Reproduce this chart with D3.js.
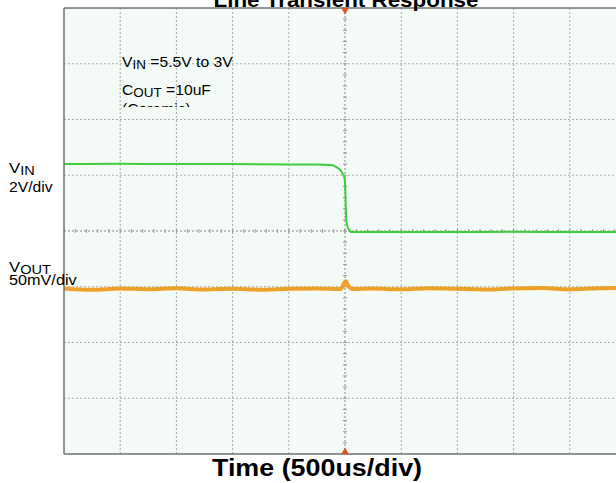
<!DOCTYPE html>
<html>
<head>
<meta charset="utf-8">
<script src="https://cdn.jsdelivr.net/npm/d3@7"></script>
<style>
  body { margin: 0; background: #fff; }
  text { font-family: Arial, "Liberation Sans", sans-serif; fill: #000; }
</style>
</head>
<body>
<div id="chart"></div>
<script>
// ---- data read off the scope shot ----
// time axis: 500us/div, 10 divs, trigger at centre
var timeDomain = [-2500, 2500];
var divRange   = [-4, 4];

// VIN trace (volts), 2V/div
var vinTime = [-2500, -2000, -1500, -1000, -500, -250, -125, -80, -45, -20, -4, 4, 9, 18, 36, 62, 500, 1000, 1500, 2000, 2500];
var vinVolt = [5.40, 5.41, 5.40, 5.40, 5.39, 5.39, 5.37, 5.30, 5.20, 5.05, 4.90, 4.29, 3.57, 3.22, 3.04, 2.96, 2.96, 2.96, 2.97, 2.96, 2.96];

// VOUT trace (mV deviation), 50mV/div
var voutTime = [-2500, -2250, -2000, -1750, -1500, -1250, -1000, -750, -500, -250, -36, -18, -4, 9, 22, 45, 71, 250, 500, 750, 1000, 1250, 1500, 1750, 2000, 2250, 2500];
var voutMv   = [0.5, -0.8, 0.4, -0.2, 0.6, -0.5, 0.3, -0.6, 0.2, 0.5, 0, 3, 6, 7, 4, 1, 0, 0.4, -0.3, 0.6, 0.2, -0.4, 0.5, 0.8, -0.2, 0.6, 0.9];

var vinScale  = 2,  vinRef  = 3.0, vinPos  = 0;     // volts per div, level on centre line
var voutScale = 50, voutRef = 0,   voutPos = -1.04; // mV per div

var title  = "Line Transient Response";
var xTitle = "Time (500us/div)";

// ---- layout ----
var width = 616, height = 483;
var plot  = { left: 64, right: 626, top: 8, bottom: 454 };
var stretch = 1.12; // source image is stretched sideways

var svg = d3.select("#chart").append("svg")
  .attr("width", width).attr("height", height);

var x = d3.scaleLinear().domain(timeDomain).range([plot.left, plot.right]);
var y = d3.scaleLinear().domain(divRange).range([plot.bottom, plot.top]);

svg.append("clipPath").attr("id", "clip")
  .append("rect").attr("x", plot.left).attr("y", plot.top)
  .attr("width", width - plot.left).attr("height", plot.bottom - plot.top);

var g = svg.append("g").attr("clip-path", "url(#clip)");

g.append("rect")
  .attr("x", plot.left).attr("y", plot.top)
  .attr("width", plot.right - plot.left).attr("height", plot.bottom - plot.top)
  .attr("fill", "#f4fbf6");

// grid
var xDivs = d3.range(-2000, 2501, 500);
var yDivs = d3.range(-3, 4, 1);

g.selectAll(".vgrid").data(xDivs).enter().append("line")
  .attr("x1", function (d) { return x(d); }).attr("x2", function (d) { return x(d); })
  .attr("y1", plot.top).attr("y2", plot.bottom)
  .attr("stroke", d => d === 0 ? "#888" : "#aaa")
  .attr("stroke-width", 1)
  .attr("stroke-dasharray", "2,2");

g.selectAll(".hgrid").data(yDivs).enter().append("line")
  .attr("x1", plot.left).attr("x2", plot.right)
  .attr("y1", function (d) { return y(d); }).attr("y2", function (d) { return y(d); })
  .attr("stroke", d => d === 0 ? "#888" : "#aaa")
  .attr("stroke-width", 1)
  .attr("stroke-dasharray", "2,2");

// minor ticks on the centre lines
var xMinor = d3.range(-2500, 2501, 100);
var yMinor = d3.range(-4, 4.01, 0.2);

g.selectAll(".xminor").data(xMinor).enter().append("line")
  .attr("x1", d => x(d)).attr("x2", d => x(d))
  .attr("y1", y(0) - 2).attr("y2", y(0) + 2)
  .attr("stroke", "#999").attr("stroke-width", 1);

g.selectAll(".yminor").data(yMinor).enter().append("line")
  .attr("x1", x(0) - 2).attr("x2", x(0) + 2)
  .attr("y1", d => y(d)).attr("y2", d => y(d))
  .attr("stroke", "#999").attr("stroke-width", 1);

// traces
var vinLine = d3.line()
  .x(function (d, i) { return x(vinTime[i]); })
  .y(function (d) { return y((d - vinRef) / vinScale + vinPos); })
  .curve(d3.curveMonotoneX);

var voutLine = d3.line()
  .x(function (d, i) { return x(voutTime[i]); })
  .y(function (d) { return y((d - voutRef) / voutScale + voutPos); })
  .curve(d3.curveMonotoneX);

g.append("path").datum(voutMv)
  .attr("d", voutLine)
  .attr("fill", "none").attr("stroke", "#eea028").attr("stroke-width", 4)
  .attr("stroke-linejoin", "round");

g.append("path").datum(vinVolt)
  .attr("d", vinLine)
  .attr("fill", "none").attr("stroke", "#3ccf3c").attr("stroke-width", 2)
  .attr("stroke-linejoin", "round");

// frame
svg.append("line").attr("x1", plot.left).attr("x2", plot.left)
  .attr("y1", plot.top).attr("y2", plot.bottom)
  .attr("stroke", "#6f7370").attr("stroke-width", 1.5);
svg.append("line").attr("x1", plot.left).attr("x2", width)
  .attr("y1", plot.top).attr("y2", plot.top)
  .attr("stroke", "#6f7370").attr("stroke-width", 1.5);
svg.append("line").attr("x1", plot.left).attr("x2", width)
  .attr("y1", plot.bottom).attr("y2", plot.bottom)
  .attr("stroke", "#6f7370").attr("stroke-width", 1.5);

// trigger markers
var tri = d3.symbol().type(d3.symbolTriangle).size(26);
svg.append("path").attr("d", tri)
  .attr("transform", "translate(" + x(0) + "," + (plot.top + 2) + ") rotate(180)")
  .attr("fill", "#e2561e");
svg.append("path").attr("d", tri)
  .attr("transform", "translate(" + x(0) + "," + (plot.bottom - 2) + ")")
  .attr("fill", "#e2561e");

// text helper: stretched sideways about its anchor
function label(parent, px, py, size, weight, anchor) {
  return parent.append("text")
    .attr("transform", "translate(" + px + "," + py + ") scale(" + stretch + ",1)")
    .attr("font-size", size).attr("font-weight", weight || "normal")
    .attr("text-anchor", anchor || "start");
}

function subLabel(parent, px, py, size, main, sub, rest) {
  var t = label(parent, px, py, size);
  t.append("tspan").text(main);
  t.append("tspan").attr("font-size", size - 2).attr("dy", 2).text(sub);
  if (rest) t.append("tspan").attr("dy", -2).text(rest);
  return t;
}

label(svg, 346, 7, 20, "bold", "middle").text(title);
label(svg, 317, 476, 24, "bold", "middle").text(xTitle);

subLabel(svg, 9, 173, 15, "V", "IN");
label(svg, 9, 191.5, 14).text("2V/div");
subLabel(svg, 9, 272, 15, "V", "OUT");
label(svg, 9, 284.5, 14.5).text("50mV/div");

// annotation, clipped like the original text box
svg.append("clipPath").attr("id", "noteClip")
  .append("rect").attr("x", 100).attr("y", 40).attr("width", 200).attr("height", 67);
var note = svg.append("g").attr("clip-path", "url(#noteClip)");
subLabel(note, 122, 67, 14, "V", "IN", " =5.5V to 3V");
subLabel(note, 122, 95, 14, "C", "OUT", " =10uF");
label(note, 122, 114, 14).text("(Ceramic)");
</script>
</body>
</html>
